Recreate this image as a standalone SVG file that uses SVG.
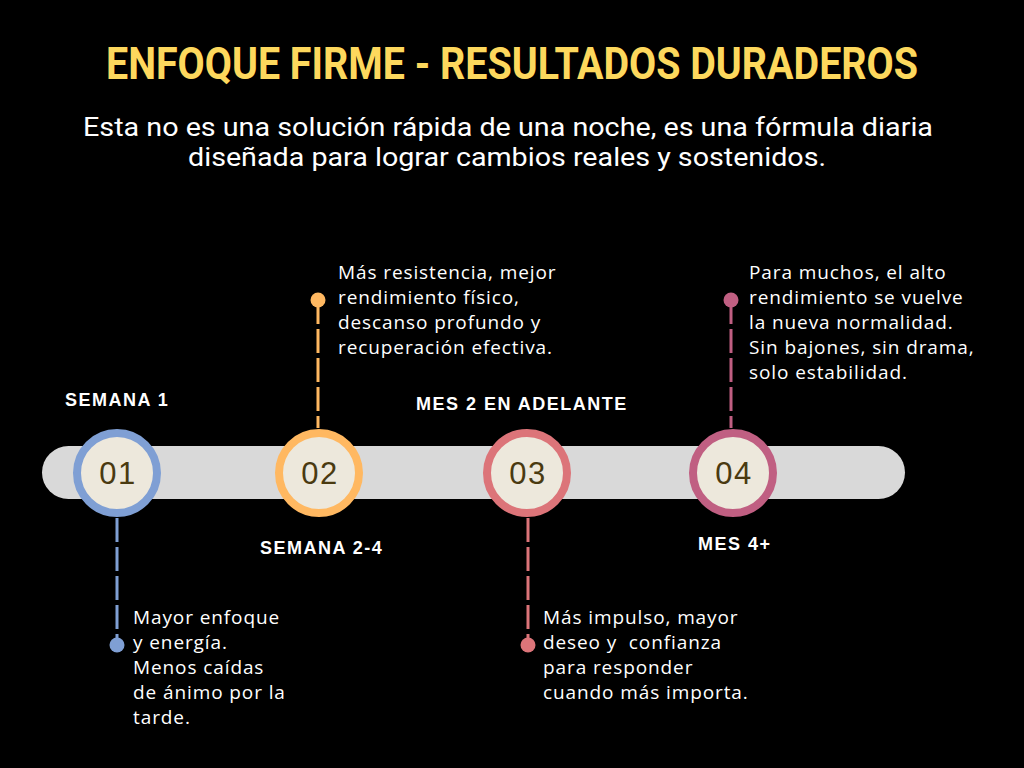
<svg xmlns="http://www.w3.org/2000/svg" width="1024" height="768" viewBox="0 0 1024 768">
<style>
.title{font-family:Roboto,"Liberation Sans",sans-serif;font-weight:700;font-size:44px;fill:#fdd85d}
.sub{font-family:Roboto,"Liberation Sans",sans-serif;font-size:26px;fill:#ffffff}
.lab{font-family:"Liberation Sans",Arial,sans-serif;font-weight:700;font-size:18px;fill:#ffffff;letter-spacing:1.5px}
.body{font-family:"Open Sans","Liberation Sans",sans-serif;font-size:19px;fill:#ffffff;letter-spacing:0.9px}
.num{font-family:"Liberation Sans",Arial,sans-serif;font-size:31px;fill:#4a3a10;text-anchor:middle;letter-spacing:1.5px}
.ring{fill:#ede8dc;stroke-width:8}
.conn{stroke-width:3;stroke-dasharray:24 5;fill:none}
</style>
<rect width="1024" height="768" fill="#000000"/>
<text class="title" x="512" y="79" text-anchor="middle" textLength="812" lengthAdjust="spacingAndGlyphs">ENFOQUE FIRME - RESULTADOS DURADEROS</text>
<text class="sub" x="508" y="136" text-anchor="middle" textLength="850" lengthAdjust="spacingAndGlyphs">Esta no es una solución rápida de una noche, es una fórmula diaria</text>
<text class="sub" x="507" y="166" text-anchor="middle" textLength="638" lengthAdjust="spacingAndGlyphs">diseñada para lograr cambios reales y sostenidos.</text>
<rect x="42" y="446" width="863" height="53" rx="26.5" fill="#d9d9d9"/>
<g id="connectors">
<line class="conn" x1="117" y1="518" x2="117" y2="645" stroke="#7f9fd4"/>
<circle cx="117" cy="645" r="7.5" fill="#7f9fd4"/>
<line class="conn" x1="318" y1="300" x2="318" y2="428" stroke="#ffb861"/>
<circle cx="318" cy="300" r="7.5" fill="#ffb861"/>
<line class="conn" x1="528" y1="518" x2="528" y2="645" stroke="#dc7479"/>
<circle cx="528" cy="645" r="7.5" fill="#dc7479"/>
<line class="conn" x1="731" y1="300" x2="731" y2="428" stroke="#c05f82"/>
<circle cx="731" cy="300" r="7.5" fill="#c05f82"/>
</g>
<g id="node1">
<circle class="ring" cx="117" cy="473" r="40" stroke="#7f9fd4"/>
<text class="num" x="118" y="484">01</text>
<text class="lab" x="65" y="406">SEMANA 1</text>
<text class="body"><tspan x="133" y="624">Mayor enfoque</tspan><tspan x="133" y="649">y energía.</tspan><tspan x="133" y="674">Menos caídas</tspan><tspan x="133" y="699">de ánimo por la</tspan><tspan x="133" y="724">tarde.</tspan></text>
</g>
<g id="node2">
<circle class="ring" cx="319" cy="473" r="40" stroke="#ffb861"/>
<text class="num" x="320" y="484">02</text>
<text class="lab" x="260" y="554">SEMANA 2-4</text>
<text class="body"><tspan x="338" y="279">Más resistencia, mejor</tspan><tspan x="338" y="304">rendimiento físico,</tspan><tspan x="338" y="329">descanso profundo y</tspan><tspan x="338" y="354">recuperación efectiva.</tspan></text>
</g>
<g id="node3">
<circle class="ring" cx="527" cy="473" r="40" stroke="#dc7479"/>
<text class="num" x="528" y="484">03</text>
<text class="lab" x="416" y="410">MES 2 EN ADELANTE</text>
<text class="body" xml:space="preserve"><tspan x="543" y="624">Más impulso, mayor</tspan><tspan x="543" y="649">deseo y  confianza</tspan><tspan x="543" y="674">para responder</tspan><tspan x="543" y="699">cuando más importa.</tspan></text>
</g>
<g id="node4">
<circle class="ring" cx="733" cy="473" r="40" stroke="#c05f82"/>
<text class="num" x="734" y="484">04</text>
<text class="lab" x="698" y="550">MES 4+</text>
<text class="body"><tspan x="749" y="279">Para muchos, el alto</tspan><tspan x="749" y="304">rendimiento se vuelve</tspan><tspan x="749" y="329">la nueva normalidad.</tspan><tspan x="749" y="354">Sin bajones, sin drama,</tspan><tspan x="749" y="379">solo estabilidad.</tspan></text>
</g>
</svg>
